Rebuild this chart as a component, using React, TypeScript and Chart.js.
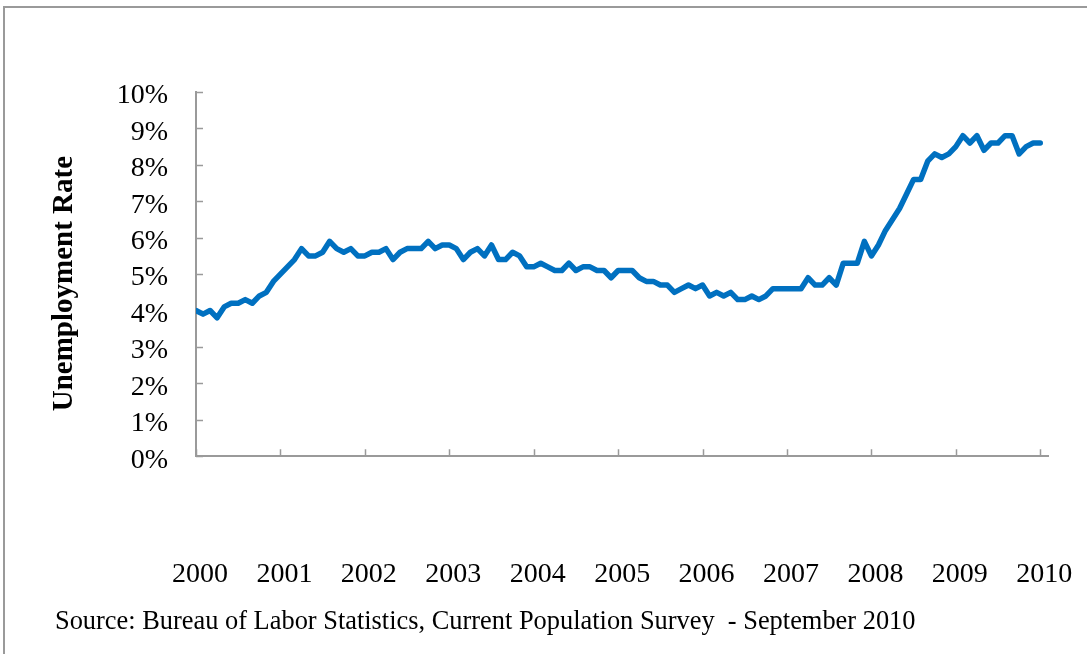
import React, { useEffect, useRef } from 'react';
import { Chart, registerables } from 'chart.js';

Chart.register(...registerables);

const FONT_FAMILY = "'Liberation Serif', 'Times New Roman', Times, serif";

const yearLabels = ['2000', '2001', '2002', '2003', '2004', '2005', '2006', '2007', '2008', '2009', '2010'];
const percentLabels = ['0%', '1%', '2%', '3%', '4%', '5%', '6%', '7%', '8%', '9%', '10%'];
const yAxisTitle = 'Unemployment Rate';
const sourceNote = 'Source: Bureau of Labor Statistics, Current Population Survey  - September 2010';

// Monthly unemployment rate (%), Jan 2000 onward
const rate2000 = [4.0, 3.9, 4.0, 3.8, 4.1, 4.2, 4.2, 4.3, 4.2, 4.4, 4.5, 4.8];
const rate2001 = [5.0, 5.2, 5.4, 5.7, 5.5, 5.5, 5.6, 5.9, 5.7, 5.6, 5.7, 5.5];
const rate2002 = [5.5, 5.6, 5.6, 5.7, 5.4, 5.6, 5.7, 5.7, 5.7, 5.9, 5.7, 5.8];
const rate2003 = [5.8, 5.7, 5.4, 5.6, 5.7, 5.5, 5.8, 5.4, 5.4, 5.6, 5.5, 5.2];
const rate2004 = [5.2, 5.3, 5.2, 5.1, 5.1, 5.3, 5.1, 5.2, 5.2, 5.1, 5.1, 4.9];
const rate2005 = [5.1, 5.1, 5.1, 4.9, 4.8, 4.8, 4.7, 4.7, 4.5, 4.6, 4.7, 4.6];
const rate2006 = [4.7, 4.4, 4.5, 4.4, 4.5, 4.3, 4.3, 4.4, 4.3, 4.4, 4.6, 4.6];
const rate2007 = [4.6, 4.6, 4.6, 4.9, 4.7, 4.7, 4.9, 4.7, 5.3, 5.3, 5.3, 5.9];
const rate2008 = [5.5, 5.8, 6.2, 6.5, 6.8, 7.2, 7.6, 7.6, 8.1, 8.3, 8.2, 8.3];
const rate2009 = [8.5, 8.8, 8.6, 8.8, 8.4, 8.6, 8.6, 8.8, 8.8, 8.3, 8.5, 8.6];
const rate2010 = [8.6];

const unemploymentRate = [
  ...rate2000, ...rate2001, ...rate2002, ...rate2003, ...rate2004, ...rate2005,
  ...rate2006, ...rate2007, ...rate2008, ...rate2009, ...rate2010,
];

const AXIS_COLOR = '#9a9a9a';
const LINE_COLOR = '#0070C0';

export default function App() {
  const canvasRef = useRef<HTMLCanvasElement>(null);

  useEffect(() => {
    const canvas = canvasRef.current;
    if (!canvas) return;
    Chart.defaults.font.family = FONT_FAMILY;
    Chart.defaults.color = '#000';

    const insideTicks = {
      id: 'insideTicks',
      beforeDatasetsDraw(chart: any) {
        const { ctx, chartArea, scales } = chart;
        const xs = scales.x;
        const ys = scales.y;
        ctx.save();
        ctx.strokeStyle = AXIS_COLOR;
        ctx.lineWidth = 1.5;
        ctx.beginPath();
        xs.ticks.forEach((t: any) => {
          const px = Math.round(xs.getPixelForValue(t.value)) + 0.5;
          ctx.moveTo(px, chartArea.bottom);
          ctx.lineTo(px, chartArea.bottom - 7);
        });
        ys.ticks.forEach((t: any) => {
          const py = Math.round(ys.getPixelForValue(t.value)) + 0.5;
          ctx.moveTo(chartArea.left, py);
          ctx.lineTo(chartArea.left + 7, py);
        });
        ctx.stroke();
        ctx.restore();
      },
    };

    const yTitlePlugin = {
      id: 'yTitle',
      afterDraw(chart: any) {
        const { ctx, chartArea } = chart;
        ctx.save();
        ctx.translate(chartArea.left - 131, (chartArea.top + chartArea.bottom) / 2 + 9.5);
        ctx.rotate(-Math.PI / 2);
        ctx.font = `bold 29px ${FONT_FAMILY}`;
        ctx.fillStyle = '#000';
        ctx.textAlign = 'center';
        ctx.textBaseline = 'middle';
        ctx.fillText(yAxisTitle, 0, 0);
        ctx.restore();
      },
    };

    const chart = new Chart(canvas, {
      type: 'line',
      data: {
        datasets: [
          {
            label: yAxisTitle,
            data: unemploymentRate.map((v, i) => ({ x: i, y: v })),
            borderColor: LINE_COLOR,
            backgroundColor: LINE_COLOR,
            borderWidth: 5.5,
            pointRadius: 0,
            tension: 0,
            borderJoinStyle: 'round',
            borderCapStyle: 'round',
          },
        ],
      },
      options: {
        responsive: false,
        animation: false,
        layout: { padding: { left: 55, right: 39, top: 92, bottom: 0 } },
        plugins: {
          legend: { display: false },
          tooltip: { enabled: false },
          title: {
            display: true,
            position: 'bottom',
            align: 'start',
            text: sourceNote,
            color: '#000',
            font: { family: FONT_FAMILY, size: 26.4, weight: 'normal' },
            padding: { top: 0, bottom: 16.4 },
          },
        },
        scales: {
          x: {
            type: 'linear',
            min: 0,
            max: 121.1,
            afterBuildTicks: (s: any) => {
              s.ticks = yearLabels.map((_, i) => ({ value: i * 12 }));
            },
            afterFit: (s: any) => {
              s.height = 149.7;
              s.paddingLeft = 0;
              s.paddingRight = 0;
            },
            grid: { display: false, drawTicks: false },
            border: { display: true, color: AXIS_COLOR, width: 2 },
            ticks: {
              padding: 101.5,
              labelOffset: 4,
              autoSkip: false,
              maxRotation: 0,
              color: '#000',
              font: { size: 28 },
              callback: (v: any) => yearLabels[Math.round(Number(v) / 12)],
            },
          },
          y: {
            type: 'linear',
            min: 0,
            max: 10,
            afterBuildTicks: (s: any) => {
              s.ticks = percentLabels.map((_, i) => ({ value: i }));
            },
            afterFit: (s: any) => {
              s.width = 141;
              s.paddingTop = 0;
              s.paddingBottom = 0;
            },
            grid: { display: false, drawTicks: false },
            border: { display: true, color: AXIS_COLOR, width: 2 },
            ticks: {
              padding: 28,
              labelOffset: 4,
              autoSkip: false,
              color: '#000',
              font: { size: 28 },
              callback: (v: any) => percentLabels[Math.round(Number(v))],
            },
          },
        },
      },
      plugins: [insideTicks, yTitlePlugin],
    } as any);

    return () => chart.destroy();
  }, []);

  return (
    <div style={{ position: 'absolute', left: 0, top: 0, width: 1087, height: 654, overflow: 'hidden', background: '#fff' }}>
      <div
        style={{
          position: 'absolute',
          left: 3,
          top: 6,
          width: 1200,
          height: 800,
          border: `2px solid ${AXIS_COLOR}`,
          boxSizing: 'border-box',
        }}
      />
      <canvas ref={canvasRef} width={1087} height={654} style={{ position: 'absolute', left: 0, top: 0 }} />
    </div>
  );
}
